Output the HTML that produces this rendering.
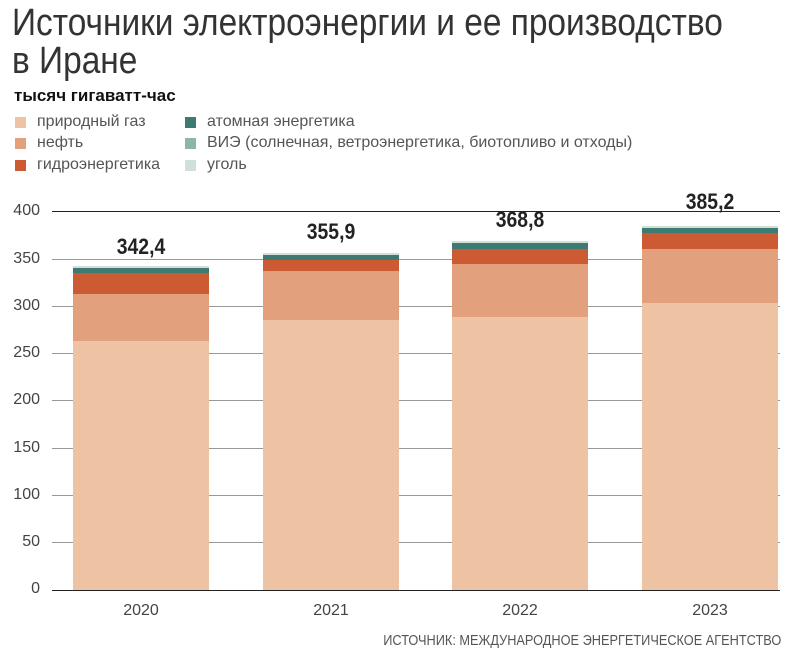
<!DOCTYPE html>
<html><head><meta charset="utf-8"><style>
body{margin:0;width:797px;height:665px;background:#fff;position:relative;overflow:hidden;font-family:"Liberation Sans","DejaVu Sans",sans-serif;color:#222}
.a{position:absolute;white-space:nowrap}
.sx{transform-origin:0 0}
.sw{position:absolute;width:11px;height:11px}
.lg{position:absolute;font-size:16px;color:#555;transform:scaleX(1.0);transform-origin:0 0;white-space:nowrap}
.yl{position:absolute;right:757px;font-size:16px;color:#444;text-align:right}
.g{position:absolute;left:52px;width:728px;height:1px;background:#999}
.bar{position:absolute;width:136px}
.v{position:absolute;font-size:22px;font-weight:bold;color:#222;text-align:center;width:136px;transform:scaleX(0.88)}
.yr{position:absolute;font-size:16px;color:#444;text-align:center;width:136px}
</style></head><body>
<div class="a sx" style="left:12px;top:4px;font-size:38px;color:#333;line-height:38px;transform:scaleX(0.88)">Источники электроэнергии и ее производство<br>в Иране</div>
<div class="a" style="left:14px;top:86px;font-size:17px;font-weight:bold;color:#111">тысяч гигаватт-час</div>

<div class="sw" style="left:15px;top:117px;background:#edc3a3"></div><div class="lg" style="left:37px;top:113px">природный газ</div>
<div class="sw" style="left:15px;top:138px;background:#e3a07c"></div><div class="lg" style="left:37px;top:134px">нефть</div>
<div class="sw" style="left:15px;top:160px;background:#cc5a33"></div><div class="lg" style="left:37px;top:156px">гидроэнергетика</div>
<div class="sw" style="left:185px;top:117px;background:#3f7a72"></div><div class="lg" style="left:207px;top:113px">атомная энергетика</div>
<div class="sw" style="left:185px;top:138px;background:#8fb5a8"></div><div class="lg" style="left:207px;top:134px">ВИЭ (солнечная, ветроэнергетика, биотопливо и отходы)</div>
<div class="sw" style="left:185px;top:160px;background:#cfe0da"></div><div class="lg" style="left:207px;top:156px">уголь</div>

<div class="g" style="top:211px;background:#222"></div>
<div class="g" style="top:259px"></div>
<div class="g" style="top:306px"></div>
<div class="g" style="top:353px"></div>
<div class="g" style="top:400px"></div>
<div class="g" style="top:448px"></div>
<div class="g" style="top:495px"></div>
<div class="g" style="top:542px"></div>

<div class="yl" style="top:202px">400</div>
<div class="yl" style="top:250px">350</div>
<div class="yl" style="top:297px">300</div>
<div class="yl" style="top:344px">250</div>
<div class="yl" style="top:391px">200</div>
<div class="yl" style="top:439px">150</div>
<div class="yl" style="top:486px">100</div>
<div class="yl" style="top:533px">50</div>
<div class="yl" style="top:580px">0</div>

<div class="bar" style="left:73px;top:266px;height:2px;background:#cfe0da"></div>
<div class="bar" style="left:73px;top:268px;height:5px;background:#3f7a72"></div>
<div class="bar" style="left:73px;top:273px;height:21px;background:#cc5a33"></div>
<div class="bar" style="left:73px;top:294px;height:47px;background:#e3a07c"></div>
<div class="bar" style="left:73px;top:341px;height:249px;background:#edc3a3"></div>
<div class="v" style="left:73px;top:234px">342,4</div>

<div class="bar" style="left:263px;top:253px;height:2px;background:#cfe0da"></div>
<div class="bar" style="left:263px;top:255px;height:5px;background:#3f7a72"></div>
<div class="bar" style="left:263px;top:260px;height:11px;background:#cc5a33"></div>
<div class="bar" style="left:263px;top:271px;height:49px;background:#e3a07c"></div>
<div class="bar" style="left:263px;top:320px;height:270px;background:#edc3a3"></div>
<div class="v" style="left:263px;top:219px">355,9</div>

<div class="bar" style="left:452px;top:241px;height:2px;background:#cfe0da"></div>
<div class="bar" style="left:452px;top:243px;height:6px;background:#3f7a72"></div>
<div class="bar" style="left:452px;top:249px;height:15px;background:#cc5a33"></div>
<div class="bar" style="left:452px;top:264px;height:53px;background:#e3a07c"></div>
<div class="bar" style="left:452px;top:317px;height:273px;background:#edc3a3"></div>
<div class="v" style="left:452px;top:207px">368,8</div>

<div class="bar" style="left:642px;top:226px;height:2px;background:#cfe0da"></div>
<div class="bar" style="left:642px;top:228px;height:5px;background:#3f7a72"></div>
<div class="bar" style="left:642px;top:233px;height:16px;background:#cc5a33"></div>
<div class="bar" style="left:642px;top:249px;height:54px;background:#e3a07c"></div>
<div class="bar" style="left:642px;top:303px;height:287px;background:#edc3a3"></div>
<div class="v" style="left:642px;top:189px">385,2</div>

<div class="g" style="top:590px;background:#222"></div>

<div class="yr" style="left:73px;top:602px">2020</div>
<div class="yr" style="left:263px;top:602px">2021</div>
<div class="yr" style="left:452px;top:602px">2022</div>
<div class="yr" style="left:642px;top:602px">2023</div>

<div class="a" style="right:16px;top:632px;font-size:15px;color:#555;transform:scaleX(0.85);transform-origin:100% 0">ИСТОЧНИК: МЕЖДУНАРОДНОЕ ЭНЕРГЕТИЧЕСКОЕ АГЕНТСТВО</div>
</body></html>
